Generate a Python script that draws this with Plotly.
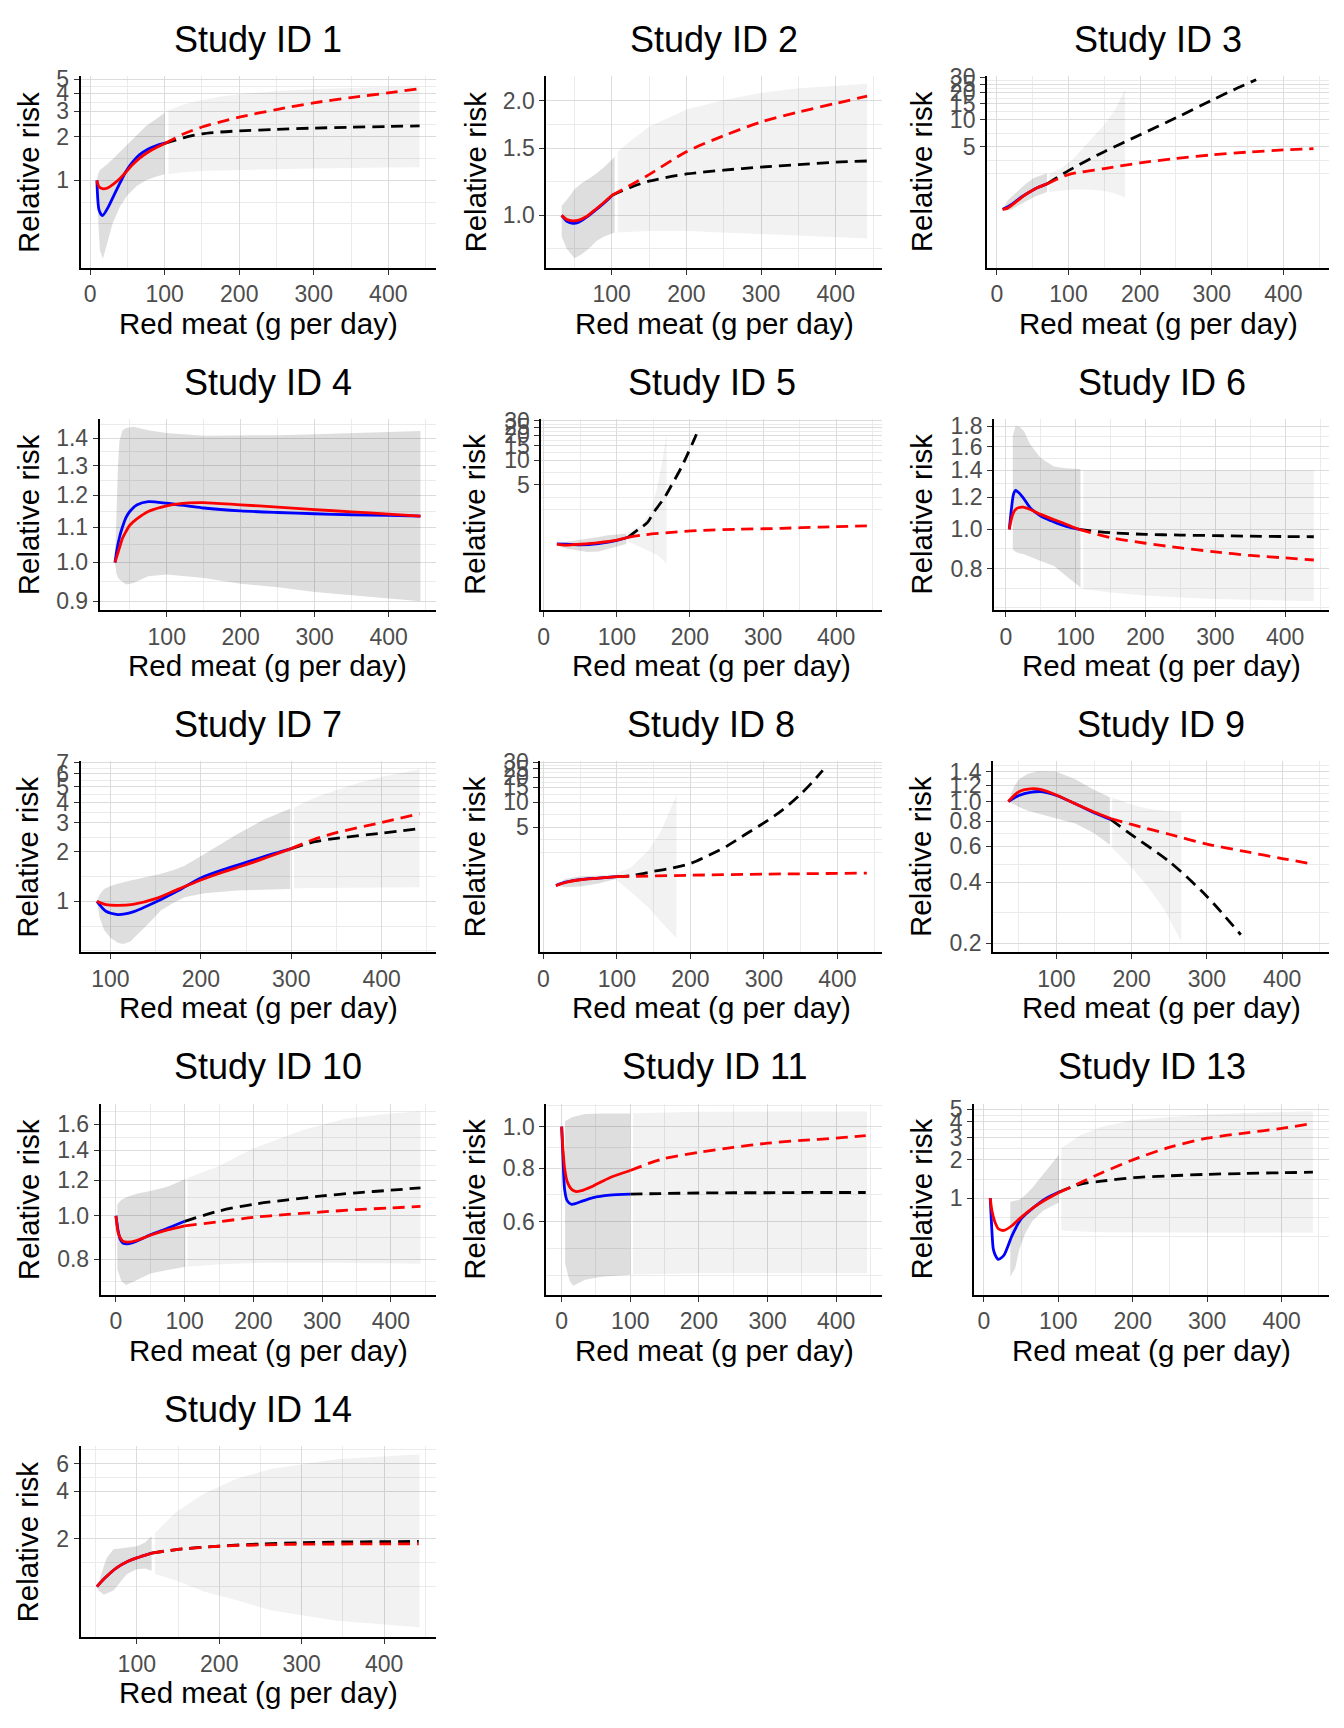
import math
import plotly.graph_objects as go

# ---------------- data ----------------
# Study ID 1
s1_x = [9, 12, 16.5, 24, 32, 40, 48, 56, 66, 78, 90, 100]
s1_blue = [1.0, 0.62, 0.57, 0.65, 0.79, 0.96, 1.15, 1.32, 1.50, 1.65, 1.75, 1.81]
s1_red = [1.0, 0.90, 0.875, 0.89, 0.95, 1.03, 1.14, 1.27, 1.42, 1.57, 1.70, 1.80]
s1_xe = [100, 125, 150, 175, 200, 250, 300, 350, 400, 442]
s1_red_e = [1.80, 2.09, 2.34, 2.54, 2.74, 3.09, 3.44, 3.74, 4.03, 4.31]
s1_xk = s1_xe
s1_black = [1.80, 1.97, 2.10, 2.16, 2.20, 2.25, 2.30, 2.33, 2.36, 2.38]
s1_rx = [9, 11, 13, 17, 22, 30, 40, 50, 62, 75, 88, 100]
s1_rhi = [1.0, 1.12, 1.18, 1.22, 1.28, 1.40, 1.58, 1.78, 2.05, 2.38, 2.65, 2.94]
s1_rlo = [1.0, 0.50, 0.33, 0.286, 0.36, 0.50, 0.66, 0.79, 0.91, 1.0, 1.06, 1.10]
s1_ex = [105, 125, 150, 175, 200, 250, 300, 350, 400, 442]
s1_ehi = [3.05, 3.35, 3.60, 3.80, 3.95, 4.15, 4.28, 4.36, 4.42, 4.45]
s1_elo = [1.10, 1.14, 1.16, 1.17, 1.18, 1.195, 1.21, 1.22, 1.225, 1.23]
s1_yticks = [1, 2, 3, 4, 5]
s1_ylabels = ["1", "2", "3", "4", "5"]

# Study ID 2
s2_x = [33, 40, 48, 56, 65, 75, 88, 100]
s2_blue = [1.0, 0.965, 0.953, 0.96, 0.985, 1.02, 1.07, 1.125]
s2_red = [1.0, 0.975, 0.967, 0.972, 0.99, 1.025, 1.075, 1.128]
s2_xe = [100, 125, 150, 200, 250, 300, 350, 400, 442]
s2_red_e = [1.128, 1.20, 1.28, 1.47, 1.62, 1.76, 1.87, 1.97, 2.06]
s2_xk = s2_xe
s2_black = [1.128, 1.185, 1.23, 1.285, 1.315, 1.34, 1.36, 1.38, 1.39]
s2_rx = [33, 40, 50, 60, 70, 80, 90, 104]
s2_rhi = [1.06, 1.10, 1.17, 1.216, 1.25, 1.29, 1.34, 1.426]
s2_rlo = [0.88, 0.816, 0.772, 0.79, 0.82, 0.858, 0.88, 0.902]
s2_ex = [108, 125, 150, 200, 250, 300, 350, 400, 442]
s2_ehi = [1.47, 1.57, 1.71, 1.90, 2.01, 2.10, 2.16, 2.19, 2.22]
s2_elo = [0.902, 0.905, 0.91, 0.91, 0.905, 0.895, 0.885, 0.877, 0.87]
s2_yticks = [1.0, 1.5, 2.0]
s2_ylabels = ["1.0", "1.5", "2.0"]

# Study ID 3
s3_x = [8, 15, 25, 35, 45, 55, 70]
s3_blue = [1.0, 1.06, 1.2, 1.38, 1.55, 1.72, 1.92]
s3_red = [1.0, 1.03, 1.18, 1.37, 1.55, 1.72, 1.92]
s3_xe = [70, 100, 150, 200, 250, 300, 350, 400, 442]
s3_red_e = [1.92, 2.44, 2.85, 3.30, 3.70, 4.05, 4.35, 4.60, 4.75]
s3_xk = [70, 100, 150, 200, 250, 300, 330, 362]
s3_black = [1.92, 2.70, 4.40, 6.80, 10.5, 16.5, 21.5, 28.0]
s3_rx = [8, 15, 20, 30, 40, 52, 70]
s3_rhi = [1.0, 1.25, 1.37, 1.62, 1.92, 2.25, 2.52]
s3_rlo = [1.0, 0.978, 0.99, 1.10, 1.22, 1.37, 1.56]
s3_ex = [73, 90, 104, 125, 150, 165, 179]
s3_ehi = [2.48, 2.90, 3.48, 5.30, 8.80, 13.0, 21.9]
s3_elo = [1.56, 1.62, 1.65, 1.66, 1.60, 1.50, 1.35]
s3_yticks = [5, 10, 15, 20, 25, 30]
s3_ylabels = ["5", "10", "15", "20", "25", "30"]

# Study ID 4
s4_x = [30, 33, 36, 40, 45, 50, 60, 75, 100, 130, 150, 200, 250, 300, 350, 400, 443]
s4_blue = [1.0, 1.04, 1.07, 1.10, 1.13, 1.148, 1.169, 1.179, 1.174, 1.165, 1.159,
           1.15, 1.145, 1.141, 1.138, 1.136, 1.134]
s4_red = [1.0, 1.02, 1.04, 1.067, 1.088, 1.106, 1.126, 1.148, 1.166, 1.175, 1.176,
          1.169, 1.162, 1.154, 1.147, 1.14, 1.134]
s4_xe = []
s4_red_e = []
s4_xk = []
s4_black = []
s4_rx = [30, 32, 34, 36, 40, 45, 55, 75, 100, 150, 200, 250, 300, 350, 400, 443]
s4_rhi = [1.0, 1.15, 1.30, 1.39, 1.43, 1.44, 1.445, 1.431, 1.42, 1.41, 1.41, 1.412,
          1.415, 1.42, 1.425, 1.428]
s4_rlo = [1.0, 0.97, 0.96, 0.955, 0.949, 0.942, 0.946, 0.963, 0.968, 0.959, 0.944,
          0.935, 0.923, 0.915, 0.907, 0.90]
s4_ex = []
s4_ehi = []
s4_elo = []
s4_yticks = [0.9, 1.0, 1.1, 1.2, 1.3, 1.4]
s4_ylabels = ["0.9", "1.0", "1.1", "1.2", "1.3", "1.4"]

# Study ID 5
s5_x = [18, 30, 50, 75, 100, 115]
s5_blue = [0.965, 0.96, 0.94, 0.975, 1.06, 1.16]
s5_red = [0.96, 0.93, 0.955, 1.0, 1.075, 1.16]
s5_xe = [115, 140, 175, 210, 265, 324, 380, 442]
s5_red_e = [1.16, 1.25, 1.33, 1.40, 1.45, 1.49, 1.545, 1.60]
s5_xk = [115, 130, 142, 150, 165, 175, 188, 198, 206, 212]
s5_black = [1.16, 1.46, 1.76, 2.30, 3.50, 5.00, 8.10, 12.5, 18.0, 24.0]
s5_rx = [18, 25, 33, 45, 60, 75, 88, 100, 113]
s5_rhi = [0.98, 1.0, 1.02, 1.07, 1.12, 1.17, 1.23, 1.27, 1.29]
s5_rlo = [0.94, 0.88, 0.84, 0.80, 0.77, 0.78, 0.84, 0.90, 0.964]
s5_ex = [115, 133, 147, 156, 163, 168]
s5_ehi = [1.33, 1.60, 2.43, 5.10, 10.7, 21.4]
s5_elo = [1.04, 0.88, 0.76, 0.70, 0.62, 0.55]
s5_yticks = [5, 10, 15, 20, 25, 30]
s5_ylabels = ["5", "10", "15", "20", "25", "30"]

# Study ID 6
s6_x = [5, 8, 11, 14, 18, 25, 35, 50, 65, 80, 95, 105]
s6_blue = [1.0, 1.12, 1.22, 1.248, 1.235, 1.197, 1.13, 1.079, 1.05, 1.025, 1.008, 1.0]
s6_red = [1.0, 1.06, 1.10, 1.12, 1.131, 1.135, 1.12, 1.089, 1.063, 1.04, 1.015, 1.0]
s6_xe = [105, 150, 200, 250, 300, 350, 400, 441]
s6_red_e = [1.0, 0.954, 0.924, 0.90, 0.88, 0.862, 0.85, 0.84]
s6_xk = s6_xe
s6_black = [1.0, 0.981, 0.972, 0.968, 0.965, 0.962, 0.96, 0.959]
s6_rx = [10, 14, 20, 26, 35, 50, 69, 85, 107]
s6_rhi = [1.70, 1.80, 1.79, 1.75, 1.62, 1.50, 1.43, 1.415, 1.41]
s6_rlo = [0.893, 0.88, 0.872, 0.868, 0.857, 0.835, 0.812, 0.77, 0.718]
s6_ex = [111, 150, 200, 250, 300, 350, 400, 441]
s6_ehi = [1.40, 1.40, 1.40, 1.40, 1.40, 1.40, 1.40, 1.40]
s6_elo = [0.711, 0.698, 0.686, 0.679, 0.673, 0.669, 0.666, 0.664]
s6_yticks = [0.8, 1.0, 1.2, 1.4, 1.6, 1.8]
s6_ylabels = ["0.8", "1.0", "1.2", "1.4", "1.6", "1.8"]

# Study ID 7
s7_x = [85, 95, 108, 125, 150, 175, 200, 225, 250, 275, 300]
s7_blue = [1.0, 0.87, 0.831, 0.862, 0.99, 1.165, 1.389, 1.56, 1.726, 1.91, 2.095]
s7_red = [1.0, 0.955, 0.946, 0.959, 1.038, 1.187, 1.35, 1.51, 1.67, 1.87, 2.095]
s7_xe = [300, 325, 350, 400, 442]
s7_red_e = [2.095, 2.38, 2.62, 3.02, 3.42]
s7_xk = s7_xe
s7_black = [2.095, 2.30, 2.42, 2.60, 2.77]
s7_rx = [85, 88, 93, 100, 108, 114, 122, 130, 143, 156, 170, 182, 204, 240, 270, 299]
s7_rhi = [1.0, 1.10, 1.19, 1.24, 1.28, 1.31, 1.34, 1.37, 1.42, 1.47, 1.55, 1.65, 1.94,
          2.56, 3.15, 3.67]
s7_rlo = [1.0, 0.80, 0.669, 0.60, 0.56, 0.55, 0.57, 0.624, 0.74, 0.883, 0.98, 1.06,
          1.12, 1.165, 1.18, 1.19]
s7_ex = [303, 325, 350, 375, 400, 425, 442]
s7_ehi = [3.73, 4.25, 4.77, 5.28, 5.74, 6.10, 6.36]
s7_elo = [1.20, 1.205, 1.21, 1.212, 1.215, 1.218, 1.22]
s7_yticks = [1, 2, 3, 4, 5, 6, 7]
s7_ylabels = ["1", "2", "3", "4", "5", "6", "7"]

# Study ID 8
s8_x = [17, 30, 50, 75, 100]
s8_blue = [0.995, 1.09, 1.17, 1.22, 1.27]
s8_red = [0.99, 1.08, 1.165, 1.22, 1.27]
s8_xe = [100, 200, 300, 440]
s8_red_e = [1.27, 1.32, 1.36, 1.40]
s8_xk = [100, 120, 150, 175, 200, 225, 250, 275, 300, 325, 350, 365, 380]
s8_black = [1.27, 1.31, 1.47, 1.61, 1.83, 2.30, 2.97, 4.10, 5.62, 8.00, 12.5, 17.0, 24.0]
s8_rx = [17, 30, 50, 75, 100]
s8_rhi = [1.0, 1.20, 1.28, 1.30, 1.33]
s8_rlo = [0.985, 0.95, 0.97, 1.05, 1.20]
s8_ex = [100, 119, 142, 160, 181]
s8_ehi = [1.40, 1.64, 2.59, 4.48, 12.2]
s8_elo = [1.14, 0.83, 0.55, 0.365, 0.231]
s8_yticks = [5, 10, 15, 20, 25, 30]
s8_ylabels = ["5", "10", "15", "20", "25", "30"]

# Study ID 9
s9_x = [36, 50, 65, 80, 100, 125, 150, 172]
s9_blue = [1.0, 1.07, 1.11, 1.118, 1.07, 0.974, 0.881, 0.815]
s9_red = [1.0, 1.118, 1.155, 1.145, 1.077, 0.974, 0.888, 0.824]
s9_xe = [172, 200, 250, 300, 350, 400, 442]
s9_red_e = [0.824, 0.77, 0.689, 0.616, 0.567, 0.523, 0.49]
s9_xk = [172, 200, 250, 300, 345]
s9_black = [0.815, 0.684, 0.505, 0.34, 0.22]
s9_rx = [36, 43, 50, 62, 75, 100, 125, 150, 171]
s9_rhi = [1.0, 1.17, 1.288, 1.37, 1.41, 1.40, 1.288, 1.143, 1.05]
s9_rlo = [1.0, 0.965, 0.939, 0.90, 0.871, 0.824, 0.779, 0.697, 0.611]
s9_ex = [174, 196, 222, 244, 266]
s9_ehi = [1.05, 0.974, 0.921, 0.90, 0.888]
s9_elo = [0.589, 0.489, 0.377, 0.29, 0.204]
s9_yticks = [0.2, 0.4, 0.6, 0.8, 1.0, 1.2, 1.4]
s9_ylabels = ["0.2", "0.4", "0.6", "0.8", "1.0", "1.2", "1.4"]

# Study ID 10
s10_x = [0, 3, 6, 10, 17, 30, 50, 75, 100]
s10_blue = [1.0, 0.93, 0.888, 0.87, 0.866, 0.878, 0.907, 0.938, 0.972]
s10_red = [1.0, 0.92, 0.895, 0.878, 0.874, 0.881, 0.905, 0.93, 0.95]
s10_xe = [100, 150, 200, 250, 300, 350, 400, 443]
s10_red_e = [0.95, 0.97, 0.992, 1.007, 1.02, 1.032, 1.041, 1.049]
s10_xk = s10_xe
s10_black = [0.972, 1.025, 1.061, 1.085, 1.107, 1.125, 1.14, 1.154]
s10_rx = [2, 8, 15, 30, 50, 75, 101]
s10_rhi = [1.06, 1.085, 1.10, 1.12, 1.135, 1.16, 1.208]
s10_rlo = [0.76, 0.715, 0.701, 0.719, 0.744, 0.757, 0.77]
s10_ex = [104, 148, 200, 272, 334, 400, 443]
s10_ehi = [1.214, 1.288, 1.414, 1.552, 1.647, 1.69, 1.709]
s10_elo = [0.77, 0.779, 0.785, 0.786, 0.786, 0.784, 0.782]
s10_yticks = [0.8, 1.0, 1.2, 1.4, 1.6]
s10_ylabels = ["0.8", "1.0", "1.2", "1.4", "1.6"]

# Study ID 11
s11_x = [0, 2, 4.3, 8, 14, 20, 27.6, 46, 70, 100]
s11_blue = [1.0, 0.84, 0.714, 0.672, 0.659, 0.661, 0.668, 0.683, 0.692, 0.696]
s11_red = [1.0, 0.88, 0.80, 0.745, 0.715, 0.706, 0.708, 0.727, 0.76, 0.79]
s11_xe = [100, 144, 200, 250, 300, 350, 400, 443]
s11_red_e = [0.79, 0.838, 0.871, 0.895, 0.915, 0.929, 0.94, 0.953]
s11_xk = s11_xe
s11_black = [0.696, 0.698, 0.70, 0.701, 0.701, 0.702, 0.702, 0.702]
s11_rx = [5, 9, 12, 17, 34, 58, 100]
s11_rhi = [1.03, 1.04, 1.045, 1.055, 1.07, 1.073, 1.073]
s11_rlo = [0.48, 0.451, 0.435, 0.425, 0.439, 0.446, 0.451]
s11_ex = [104, 200, 300, 445]
s11_ehi = [1.075, 1.083, 1.085, 1.085]
s11_elo = [0.452, 0.455, 0.455, 0.455]
s11_yticks = [0.6, 0.8, 1.0]
s11_ylabels = ["0.6", "0.8", "1.0"]

# Study ID 13
s13_x = [8.6, 10.5, 12.6, 15, 19.5, 27, 38, 50, 67, 84, 101]
s13_blue = [1.0, 0.60, 0.402, 0.36, 0.33, 0.356, 0.51, 0.687, 0.846, 1.0, 1.12]
s13_red = [1.0, 0.82, 0.72, 0.647, 0.575, 0.558, 0.61, 0.707, 0.846, 0.98, 1.107]
s13_xe = [101, 130, 158, 201, 250, 300, 350, 400, 442]
s13_red_e = [1.107, 1.33, 1.58, 2.01, 2.52, 2.96, 3.25, 3.54, 3.87]
s13_xk = s13_xe
s13_black = [1.12, 1.29, 1.36, 1.45, 1.50, 1.54, 1.565, 1.585, 1.60]
s13_rx = [35.5, 42, 48, 55, 65, 80, 101]
s13_rhi = [0.936, 0.95, 0.975, 1.05, 1.20, 1.55, 2.20]
s13_rlo = [0.242, 0.28, 0.40, 0.52, 0.66, 0.80, 0.925]
s13_ex = [104, 130, 158, 201, 250, 300, 350, 400, 442]
s13_ehi = [2.48, 3.14, 3.65, 4.11, 4.35, 4.55, 4.68, 4.77, 4.83]
s13_elo = [0.557, 0.548, 0.541, 0.539, 0.538, 0.537, 0.536, 0.535, 0.535]
s13_yticks = [1, 2, 3, 4, 5]
s13_ylabels = ["1", "2", "3", "4", "5"]

# Study ID 14
s14_x = [51.6, 60, 75, 90, 100, 118]
s14_blue = [1.0, 1.117, 1.31, 1.45, 1.52, 1.63]
s14_red = [1.0, 1.117, 1.31, 1.45, 1.52, 1.63]
s14_xe = [118, 150, 200, 250, 300, 350, 400, 442]
s14_red_e = [1.63, 1.72, 1.80, 1.835, 1.855, 1.86, 1.862, 1.865]
s14_xk = s14_xe
s14_black = [1.63, 1.72, 1.805, 1.86, 1.895, 1.915, 1.925, 1.93]
s14_rx = [51.6, 53.6, 60, 63.7, 71.7, 88, 100, 110, 118]
s14_rhi = [1.0, 1.06, 1.35, 1.52, 1.72, 1.77, 1.80, 1.90, 2.08]
s14_rlo = [1.0, 0.944, 0.89, 0.90, 0.944, 1.20, 1.29, 1.30, 1.26]
s14_ex = [122, 148, 181, 221, 262, 342, 443]
s14_ehi = [2.18, 2.97, 3.87, 4.80, 5.54, 6.39, 6.87]
s14_elo = [1.20, 1.09, 0.93, 0.82, 0.709, 0.608, 0.553]
s14_yticks = [2, 4, 6]
s14_ylabels = ["2", "4", "6"]

study_ids = [1, 2, 3, 4, 5, 6, 7, 8, 9, 10, 11, 13, 14]

# ---------------- layout settings ----------------
W, H = 1344, 1728
COL_W, ROW_H = 448, 345.6
PLOT_RIGHT, PLOT_TOP, PLOT_BOTTOM = 433, 65, 258
# left edge of each panel (depends on tick label width), in px from column start
panel_left = [77, 96, 90, 96, 91, 97, 77, 90, 96, 97, 96, 77, 77]
# y limits (RR) of each panel
y_limits = [(0.249, 5.24), (0.729, 2.32), (0.223, 30.5), (0.879, 1.476),
            (0.152, 31.8), (0.632, 1.876), (0.489, 7.13), (0.156, 31.0),
            (0.18, 1.58), (0.667, 1.777), (0.405, 1.132), (0.174, 5.54),
            (0.479, 7.74)]

FONT = "Liberation Sans, Arial, sans-serif"
GRID = "#DCDCDC"
GRID_MINOR = "#EBEBEB"
DASH = "12px,7px"
LW = 2.8
TICK_SIZE = 23


def log_minor(majors, lo, hi):
    # ggplot-style minor breaks: midpoints of major breaks, plus one extra step each side
    b = [math.log10(v) for v in majors]
    if lo < b[0]:
        b.insert(0, b[0] - (b[1] - b[0]))
    if hi > b[-1]:
        b.append(b[-1] + (b[-1] - b[-2]))
    out = []
    for a, c in zip(b[:-1], b[1:]):
        out += [a, (a + c) / 2]
    out.append(b[-1])
    maj = [math.log10(v) for v in majors]
    return [10 ** m for m in out
            if lo <= m <= hi and all(abs(m - k) > 1e-9 for k in maj)]


fig = go.Figure()
annotations = []

for i, sid in enumerate(study_ids):
    g = globals()
    x, blue, red = g[f"s{sid}_x"], g[f"s{sid}_blue"], g[f"s{sid}_red"]
    xe, red_e = g[f"s{sid}_xe"], g[f"s{sid}_red_e"]
    xk, black = g[f"s{sid}_xk"], g[f"s{sid}_black"]
    rx, rlo, rhi = g[f"s{sid}_rx"], g[f"s{sid}_rlo"], g[f"s{sid}_rhi"]
    ex, elo, ehi = g[f"s{sid}_ex"], g[f"s{sid}_elo"], g[f"s{sid}_ehi"]
    yticks, ylabels = g[f"s{sid}_yticks"], g[f"s{sid}_ylabels"]

    r, c = divmod(i, 3)
    n = i + 1
    xa = "x" if n == 1 else f"x{n}"
    ya = "y" if n == 1 else f"y{n}"
    common = dict(xaxis=xa, yaxis=ya, showlegend=False, hoverinfo="skip")

    # ribbons
    if ex:
        fig.add_trace(go.Scatter(x=ex + ex[::-1], y=ehi + elo[::-1], mode="lines",
                                 fill="toself", fillcolor="rgba(0,0,0,0.05)",
                                 line=dict(width=0), **common))
    fig.add_trace(go.Scatter(x=rx + rx[::-1], y=rhi + rlo[::-1], mode="lines",
                             fill="toself", fillcolor="rgba(0,0,0,0.13)",
                             line=dict(width=0), **common))
    # extrapolated curves
    if xk:
        fig.add_trace(go.Scatter(x=xk, y=black, mode="lines",
                                 line=dict(color="black", width=LW, dash=DASH,
                                           shape="spline", smoothing=0.8), **common))
    if xe:
        fig.add_trace(go.Scatter(x=xe, y=red_e, mode="lines",
                                 line=dict(color="#FF0000", width=LW, dash=DASH,
                                           shape="spline", smoothing=0.8), **common))
    # fitted curves in data range
    fig.add_trace(go.Scatter(x=x, y=blue, mode="lines",
                             line=dict(color="#0000FF", width=LW,
                                       shape="spline", smoothing=0.7), **common))
    fig.add_trace(go.Scatter(x=x, y=red, mode="lines",
                             line=dict(color="#FF0000", width=LW,
                                       shape="spline", smoothing=0.7), **common))

    # axes
    all_x = x + xe + xk + rx + ex
    xmin, xmax = min(all_x), max(all_x)
    pad = 0.05 * (xmax - xmin)
    ylo, yhi = [math.log10(v) for v in y_limits[i]]

    left = c * COL_W + panel_left[i]
    right = c * COL_W + PLOT_RIGHT
    top = r * ROW_H + PLOT_TOP
    bottom = r * ROW_H + PLOT_BOTTOM
    xkey = "xaxis" if n == 1 else f"xaxis{n}"
    ykey = "yaxis" if n == 1 else f"yaxis{n}"

    fig.update_layout(**{
        xkey: dict(domain=[left / W, right / W], anchor=ya,
                   range=[xmin - pad, xmax + pad],
                   tick0=0, dtick=100, showgrid=True, gridcolor=GRID, gridwidth=1.3,
                   minor=dict(tick0=0, dtick=50, showgrid=True, gridcolor=GRID_MINOR,
                              gridwidth=0.9, ticks=""),
                   zeroline=False, showline=True, linecolor="black", linewidth=2,
                   ticks="outside", ticklen=5, tickwidth=1.2, tickcolor="#333333",
                   ticklabelstandoff=0,
                   tickfont=dict(family=FONT, size=TICK_SIZE, color="#4D4D4D")),
        ykey: dict(domain=[1 - bottom / H, 1 - top / H], anchor=xa,
                   type="log", range=[ylo, yhi],
                   tickmode="array", tickvals=yticks, ticktext=ylabels,
                   showgrid=True, gridcolor=GRID, gridwidth=1.3,
                   minor=dict(tickmode="array", tickvals=log_minor(yticks, ylo, yhi),
                              showgrid=True, gridcolor=GRID_MINOR, gridwidth=0.9,
                              ticks=""),
                   zeroline=False, showline=True, linecolor="black", linewidth=2,
                   ticks="outside", ticklen=5, tickwidth=1.2, tickcolor="#333333",
                   ticklabelstandoff=0,
                   tickfont=dict(family=FONT, size=TICK_SIZE, color="#4D4D4D")),
    })

    cx = (left + right) / 2
    annotations.append(dict(text=f"Study ID {sid}", x=cx / W, y=1 - (r * ROW_H + 28) / H,
                            xref="paper", yref="paper", showarrow=False,
                            xanchor="center", yanchor="middle",
                            font=dict(family=FONT, size=36, color="black")))
    annotations.append(dict(text="Red meat (g per day)", x=cx / W,
                            y=1 - (r * ROW_H + 314) / H,
                            xref="paper", yref="paper", showarrow=False,
                            xanchor="center", yanchor="middle",
                            font=dict(family=FONT, size=29.5, color="black")))
    annotations.append(dict(text="Relative risk", x=(c * COL_W + 24) / W,
                            y=1 - ((top + bottom) / 2) / H, textangle=-90,
                            xref="paper", yref="paper", showarrow=False,
                            xanchor="center", yanchor="middle",
                            font=dict(family=FONT, size=29.5, color="black")))

fig.update_layout(width=W, height=H, margin=dict(l=0, r=0, t=0, b=0),
                  paper_bgcolor="white", plot_bgcolor="white",
                  annotations=annotations, font=dict(family=FONT))

fig.write_html("out.html", config={"displayModeBar": False},
               post_script="document.body.style.margin='0px';")
